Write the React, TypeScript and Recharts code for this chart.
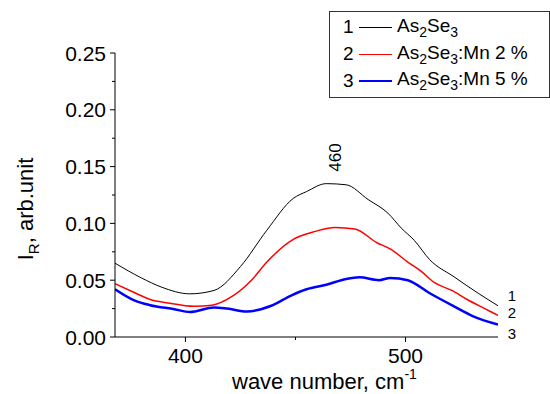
import { LineChart, Line, XAxis, YAxis, Legend, ReferenceDot } from "recharts";

// wave number (cm^-1) and reflectance
const blackX = [368, 380, 389, 402, 413, 425, 437, 449, 455, 464, 473, 483, 492, 498, 504, 511, 522, 533, 542];
const blackY = [0.065, 0.052, 0.044, 0.038, 0.041, 0.062, 0.094, 0.122, 0.128, 0.135, 0.134, 0.121, 0.109, 0.096, 0.085, 0.068, 0.053, 0.0385, 0.0275];

const redX = [368, 377, 384, 392, 404, 412, 421, 430, 437, 449, 459, 468, 477, 487, 493, 501, 507, 513, 521, 528, 536, 542];
const redY = [0.047, 0.039, 0.033, 0.03, 0.027, 0.028, 0.0355, 0.05, 0.066, 0.086, 0.093, 0.0965, 0.095, 0.083, 0.0775, 0.066, 0.058, 0.048, 0.041, 0.033, 0.025, 0.019];

const blueX = [368, 377, 384, 395, 402, 413, 419, 428, 439, 448, 455, 464, 473, 479, 488, 493, 501, 511, 522, 531, 542];
const blueY = [0.042, 0.032, 0.028, 0.0245, 0.022, 0.026, 0.025, 0.0225, 0.0275, 0.0365, 0.042, 0.046, 0.051, 0.0525, 0.05, 0.052, 0.05, 0.0385, 0.027, 0.018, 0.011];

const seriesNums = ["1", "2", "3"];
const seriesColors = ["#000000", "#ff0000", "#0000ff"];
const seriesWidths = [1, 1.5, 2.5];
const seriesSuffix = ["", ":Mn 2 %", ":Mn 5 %"];

const xTicks = [400, 450, 500];
const yTicks = [0, 0.025, 0.05, 0.075, 0.1, 0.125, 0.15, 0.175, 0.2, 0.225, 0.25];

const peakX = 468;
const peakY = 0.158;
const peakLabel = "460";

const FONT = '"Liberation Sans", Arial, sans-serif';

const toRows = (xs: number[], ys: number[]) => xs.map((x, i) => ({ x, y: ys[i] }));
const seriesData = [toRows(blackX, blackY), toRows(redX, redY), toRows(blueX, blueY)];
const endOffsets = [-10, -2, 9];

function XTick({ x, y, payload }: any) {
  const major = payload.value % 100 === 0;
  return (
    <g>
      <line x1={x} x2={x} y1={y} y2={y + (major ? 5 : 3)} stroke="#000" />
      {major && (
        <text x={x} y={y + 26} textAnchor="middle" fontSize={21} fill="#000" fontFamily={FONT}>
          {payload.value}
        </text>
      )}
    </g>
  );
}

function YTick({ x, y, payload }: any) {
  const major = Math.round(payload.value * 1000) % 50 === 0;
  return (
    <g>
      <line x1={x - (major ? 5 : 3)} x2={x} y1={y} y2={y} stroke="#000" />
      {major && (
        <text x={x - 9} y={y + 7.5} textAnchor="end" fontSize={21} fill="#000" fontFamily={FONT}>
          {payload.value.toFixed(2)}
        </text>
      )}
    </g>
  );
}

function LegendBox() {
  return (
    <div
      style={{
        boxSizing: "border-box",
        width: 221,
        height: 87,
        border: "1px solid #333",
        background: "#fff",
        fontFamily: FONT,
        fontSize: 19,
        color: "#000",
        paddingTop: 2,
      }}
    >
      {seriesNums.map((n, i) => (
        <div key={n} style={{ display: "flex", alignItems: "center", height: 26.7, whiteSpace: "nowrap" }}>
          <span style={{ width: 16, marginLeft: 13 }}>{n}</span>
          <span style={{ width: 33, height: 0, borderTop: `${seriesWidths[i] > 2 ? 2 : 1}px solid ${seriesColors[i]}`, marginRight: 5 }} />
          <span>
            As<sub style={{ fontSize: 14, verticalAlign: -5 }}>2</sub>Se<sub style={{ fontSize: 14, verticalAlign: -5 }}>3</sub>
            {seriesSuffix[i]}
          </span>
        </div>
      ))}
    </div>
  );
}

export default function App() {
  return (
    <div style={{ position: "absolute", left: 0, top: 0, background: "#fff", fontFamily: FONT }}>
      <LineChart width={550} height={394} margin={{ top: 53, right: 52, bottom: 0, left: 45 }}>
        <XAxis
          type="number"
          dataKey="x"
          domain={[368, 542]}
          ticks={xTicks}
          interval={0}
          allowDataOverflow
          height={57}
          stroke="#000"
          tickLine={false}
          tickSize={0}
          tickMargin={0}
          tick={<XTick />}
          label={{
            content: () => (
              <text x={232} y={389} fontSize={22} fill="#000" fontFamily={FONT}>
                wave number, cm
                <tspan fontSize={14} dy={-10}>-1</tspan>
              </text>
            ),
          }}
        />
        <YAxis
          type="number"
          dataKey="y"
          domain={[0, 0.25]}
          ticks={yTicks}
          interval={0}
          allowDataOverflow
          width={70}
          stroke="#000"
          tickLine={false}
          tickSize={0}
          tickMargin={0}
          tick={<YTick />}
          label={{
            content: () => (
              <text x={33} y={209} transform="rotate(-90, 33, 209)" textAnchor="middle" fontSize={22} fill="#000" fontFamily={FONT}>
                I<tspan fontSize={15} dy={6}>R</tspan>
                <tspan dy={-6}>, arb.unit</tspan>
              </text>
            ),
          }}
        />
        <Legend
          layout="vertical"
          align="center"
          verticalAlign="middle"
          wrapperStyle={{ left: 329, top: 11, width: 221, height: 87 }}
          content={<LegendBox />}
        />
        {seriesData.map((rows, i) => (
          <Line
            key={seriesNums[i]}
            data={rows}
            dataKey="y"
            type="monotone"
            stroke={seriesColors[i]}
            strokeWidth={seriesWidths[i]}
            dot={false}
            activeDot={false}
            isAnimationActive={false}
            label={(p: any) =>
              p.index === rows.length - 1 ? (
                <text key={p.index} x={p.x + 14} y={p.y + endOffsets[i] + 5} textAnchor="middle" fontSize={15} fill="#000" fontFamily={FONT}>
                  {seriesNums[i]}
                </text>
              ) : (
                <g key={p.index} />
              )
            }
          />
        ))}
        <ReferenceDot
          x={peakX}
          y={peakY}
          r={0}
          fill="none"
          stroke="none"
          label={{
            content: (p: any) => {
              const cx = p.viewBox.x + (p.viewBox.width || 0) / 2;
              const cy = p.viewBox.y + (p.viewBox.height || 0) / 2;
              return (
                <text x={cx + 6} y={cy} transform={`rotate(-90, ${cx + 6}, ${cy})`} textAnchor="middle" fontSize={17} fill="#000" fontFamily={FONT}>
                  {peakLabel}
                </text>
              );
            },
          }}
        />
      </LineChart>
    </div>
  );
}
